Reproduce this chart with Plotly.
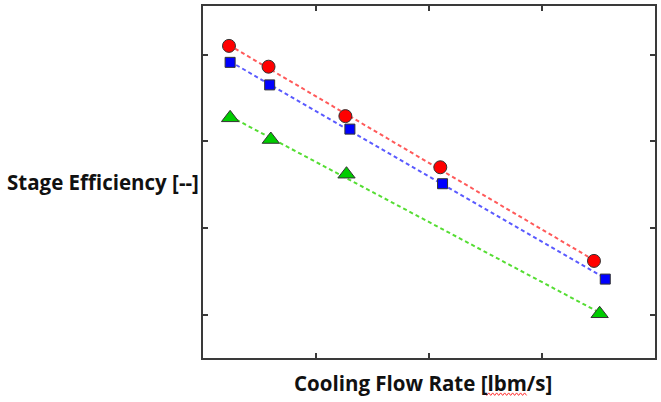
import numpy as np
import plotly.graph_objects as go

# Data (arbitrary units; axes have no tick labels)
red_x = [0.23, 0.58, 1.26, 2.10, 3.46]
red_y = [3.60, 3.36, 2.79, 2.20, 1.12]
blue_x = [0.24, 0.59, 1.30, 2.12, 3.56]
blue_y = [3.41, 3.15, 2.64, 2.01, 0.91]
green_x = [0.24, 0.60, 1.27, 3.51]
green_y = [2.77, 2.52, 2.12, 0.51]

x_ticks = [1, 2, 3]
y_ticks = [0.5, 1.5, 2.5, 3.5]

x_title = "Cooling Flow Rate [lbm/s]"
y_title = "Stage Efficiency [--]"

series = [
    (red_x, red_y, "#ff0000", "#ff5a5a", "circle", 13),
    (blue_x, blue_y, "#0000ff", "#5a5aff", "square", 10),
    (green_x, green_y, "#00cc00", "#55dd33", "triangle-up", 15),
]

fig = go.Figure()
# trend lines first (under markers)
for xs, ys, mc, lc, sym, sz in series:
    m, b = np.polyfit(xs, ys, 1)
    lx = np.array([min(xs), max(xs)])
    fig.add_trace(go.Scatter(x=lx, y=m * lx + b, mode="lines",
                             line=dict(color=lc, width=2, dash="4px,3px"),
                             hoverinfo="skip", showlegend=False))
for xs, ys, mc, lc, sym, sz in series:
    fig.add_trace(go.Scatter(x=xs, y=ys, mode="markers",
                             marker=dict(color=mc, symbol=sym, size=sz,
                                         line=dict(color="#333333", width=1)),
                             showlegend=False))

axis_common = dict(showline=True, mirror="ticks", linecolor="#3a3a3a", linewidth=2,
                   ticks="inside", ticklen=5, tickwidth=2, tickcolor="#3a3a3a",
                   showticklabels=False, showgrid=False, zeroline=False)

fig.update_xaxes(range=[0, 4], tickvals=x_ticks, **axis_common)
fig.update_yaxes(range=[0, 4.06], tickvals=y_ticks, **axis_common)

# spell-check style wavy underline under "lbm" (decoration, in paper coords)
L, T, W, H = 203, 5, 454, 353
def px(xp):
    return (xp - L) / W
def py(yp):
    return (T + H - yp) / H
pts = []
xx = 486
i = 0
while xx <= 528:
    pts.append((px(xx), py(393 if i % 2 == 0 else 395.5)))
    xx += 2
    i += 1
path = "M " + " L ".join(f"{a:.5f},{b:.5f}" for a, b in pts)

fig.update_layout(
    width=661, height=402,
    margin=dict(l=203, r=4, t=5, b=44),
    paper_bgcolor="white", plot_bgcolor="white",
    font=dict(family="Open Sans", color="#111111"),
    shapes=[dict(type="path", path=path, xref="paper", yref="paper",
                 line=dict(color="#ff3030", width=1))],
    annotations=[
        dict(text="<b>" + y_title + "</b>", xref="paper", yref="paper",
             x=-0.437, y=0.50, xanchor="left", yanchor="middle", showarrow=False,
             font=dict(size=20.5, family="Open Sans", color="#111111")),
        dict(text="<b>" + x_title + "</b>", xref="paper", yref="paper",
             x=0.487, y=-0.072, xanchor="center", yanchor="middle", showarrow=False,
             font=dict(size=20.5, family="Open Sans", color="#111111")),
    ],
)

fig.write_html("out.html", post_script="document.body.style.margin='0';",
               config={"displayModeBar": False})
